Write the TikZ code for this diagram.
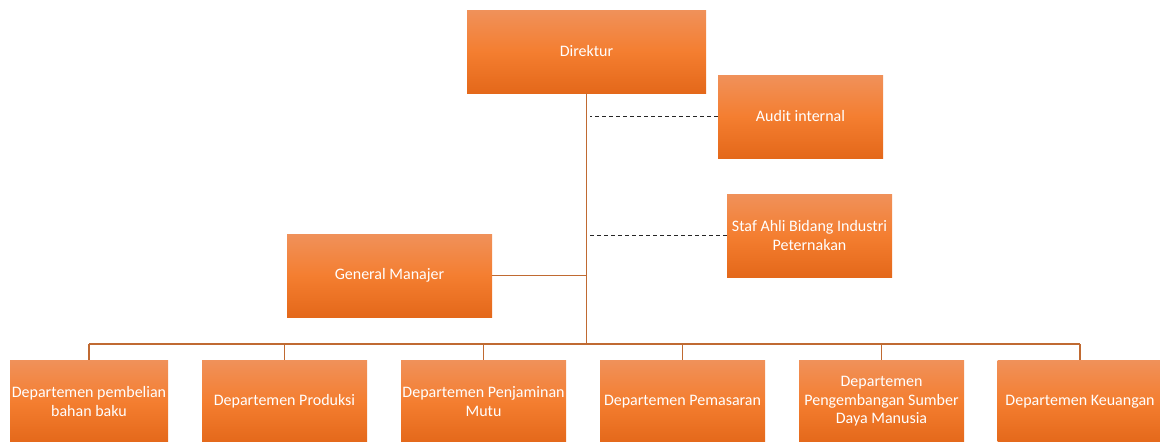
\documentclass[tikz,border=0pt]{standalone}
\usepackage{fontspec}
\setmainfont{Carlito}
\usepackage{xcolor}
\usepackage{tikz}

\definecolor{boxtop}{HTML}{F0915A}
\definecolor{boxmid}{HTML}{F47E30}
\definecolor{boxbot}{HTML}{E4681A}
\definecolor{linkbrown}{HTML}{C06A32}

\tikzset{
  unit/.style={shade, top color=boxtop, bottom color=boxbot, middle color=boxmid,
    text=white, minimum width=165pt, minimum height=83pt, inner sep=0pt,
    align=center, font=\fontsize{16}{18.5}\selectfont},
  link/.style={draw=linkbrown, line width=1.3pt},
  staff/.style={draw=black!85, dashed, dash pattern=on 4pt off 3pt, line width=1pt}
}

\begin{document}
\begin{tikzpicture}[x=1pt,y=-1pt]
    \useasboundingbox (0,0) rectangle (1160,442);
    % top of the chart
    \node[unit, minimum width=239pt] (dir) at (586.5,51.5) {Direktur};
    \node[unit] (audit) at (800.5,116.5) {Audit internal};
    \node[unit] (staf) at (809.5,235.5) {Staf Ahli Bidang Industri\\Peternakan};
    \node[unit, minimum width=205pt] (gm) at (389.5,275.5) {General Manajer};
    % departments
    \node[unit, minimum width=158pt] (d1) at (89,401.5) {Departemen pembelian\\bahan baku};
    \node[unit] (d2) at (284.5,401.5) {Departemen Produksi};
    \node[unit] (d3) at (483.5,401.5) {Departemen Penjaminan\\Mutu};
    \node[unit] (d4) at (682.5,401.5) {Departemen Pemasaran};
    \node[unit] (d5) at (881.5,401.5) {Departemen\\Pengembangan Sumber\\Daya Manusia};
    \node[unit] (d6) at (1080,401.5) {Departemen Keuangan};
    \coordinate (bus) at (586.5,344);
    % lines
    \draw[link] (dir) -- (bus);
    \draw[link] (gm.east) -- (gm.east -| bus);
    \draw[link] (d1.north |- bus) -- (d6.north |- bus);
    \foreach \i in {1,...,6}
      \draw[link] (d\i.north) -- (d\i.north |- bus);
    \draw[staff] (audit.west) -- ([xshift=3pt]audit.west -| bus);
    \draw[staff] (staf.west) -- ([xshift=1pt]staf.west -| bus);
  \end{tikzpicture}
\end{document}
